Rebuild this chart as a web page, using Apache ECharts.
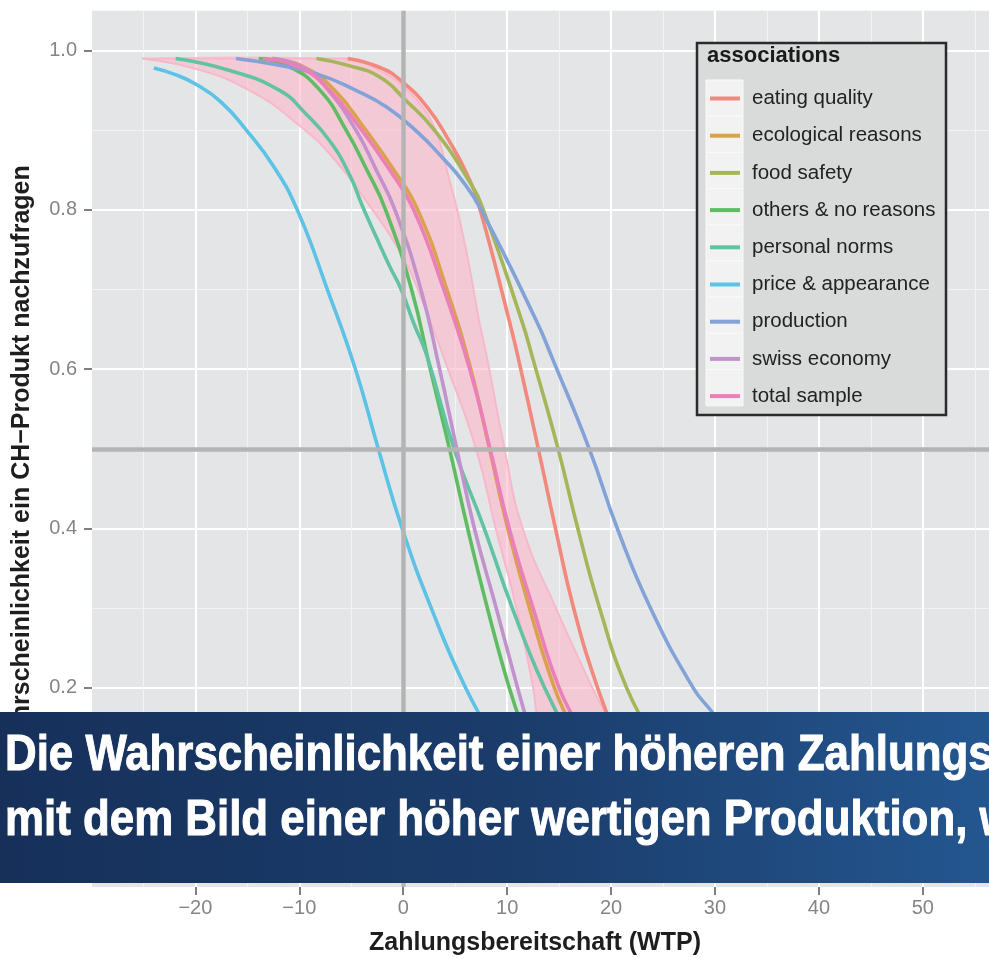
<!DOCTYPE html>
<html>
<head>
<meta charset="utf-8">
<title>Zahlungsbereitschaft nach Assoziationen</title>
<script src="https://cdn.jsdelivr.net/npm/echarts@6/dist/echarts.min.js"></script>
<style>
  html, body { margin: 0; padding: 0; background: #ffffff; overflow: hidden; }
  #main { width: 1060px; height: 959px; }
</style>
</head>
<body>
<div id="main"></div>
<script>
// Probability curves per association group: [WTP, probability]
const eatingQuality = [[-5.35,0.99],[-2.3,0.979],[-0.2,0.962],[2.3,0.929],[4.4,0.887],[6.3,0.84],[7.4,0.8],[10.2,0.661],[11.1,0.612],[13.0,0.5],[14.65,0.4],[16.4,0.3],[18.7,0.2],[20.5,0.14]];
const ecologicalReasons = [[-12.6,0.99],[-9.5,0.979],[-6.6,0.95],[-3.6,0.9],[-0.9,0.85],[1.4,0.8],[4.2,0.7],[6.5,0.6],[8.3,0.5],[10.06,0.4],[12.15,0.3],[14.55,0.2],[16.3,0.15]];
const foodSafety = [[-8.35,0.99],[-5.5,0.982],[-2.3,0.967],[0.28,0.937],[3.0,0.9],[6.3,0.837],[7.7,0.8],[11.4,0.661],[12.5,0.612],[14.9,0.5],[16.8,0.4],[18.9,0.3],[21.5,0.2],[24.0,0.14]];
const othersNoReasons = [[-13.9,0.99],[-11.0,0.98],[-8.0,0.95],[-5.5,0.9],[-3.5,0.85],[-1.7,0.8],[0.8,0.7],[2.6,0.6],[4.45,0.5],[6.2,0.4],[8.1,0.3],[10.2,0.2],[11.5,0.15]];
const personalNorms = [[-21.9,0.99],[-16.7,0.975],[-11.9,0.95],[-9.4,0.921],[-7.1,0.887],[-5.2,0.845],[-3.9,0.804],[-2.6,0.766],[-1.3,0.729],[-0.2,0.7],[1.0,0.658],[2.3,0.616],[4.9,0.5],[7.8,0.4],[10.5,0.3],[13.6,0.2],[16.0,0.14]];
const priceAppearance = [[-24.0,0.978],[-22.0,0.97],[-20.0,0.958],[-17.5,0.935],[-15.1,0.9],[-12.5,0.855],[-10.2,0.8],[-7.3,0.7],[-4.6,0.6],[-2.4,0.5],[-0.1,0.4],[2.7,0.3],[6.0,0.2],[9.0,0.13]];
const production = [[-16.1,0.99],[-12.6,0.983],[-8.4,0.971],[-4.55,0.95],[-1.6,0.929],[1.5,0.896],[3.8,0.865],[5.6,0.838],[7.5,0.8],[12.8,0.661],[14.4,0.612],[17.9,0.5],[20.6,0.4],[23.8,0.3],[27.9,0.2],[29.7,0.17],[32.0,0.13]];
const swissEconomy = [[-12.6,0.99],[-9.5,0.978],[-7.2,0.95],[-4.55,0.9],[-2.6,0.85],[-0.8,0.8],[1.7,0.7],[3.5,0.6],[5.15,0.5],[6.85,0.4],[8.95,0.3],[11.0,0.2],[12.1,0.15]];
const totalSample = [[-13.5,0.99],[-10.0,0.979],[-7.1,0.95],[-4.0,0.9],[-1.3,0.85],[1.0,0.8],[3.9,0.7],[6.4,0.6],[8.36,0.5],[10.2,0.4],[12.5,0.3],[15.0,0.2],[17.0,0.15]];

// Confidence band of the total sample
const totalUpper = [[-25.1,0.99],[-5.4,0.99],[-2.3,0.975],[0.0,0.955],[1.5,0.935],[2.7,0.912],[3.5,0.885],[4.3,0.845],[5.2,0.8],[6.2,0.74],[7.3,0.661],[8.1,0.612],[9.75,0.5],[11.5,0.4],[14.7,0.3],[18.2,0.2],[19.4,0.17],[21.0,0.13]];
const totalLower = [[-25.1,0.99],[-20.0,0.977],[-14.8,0.95],[-10.0,0.906],[-6.8,0.866],[-3.5,0.81],[0.0,0.74],[2.0,0.68],[3.97,0.612],[7.0,0.5],[8.9,0.4],[10.9,0.3],[12.5,0.2],[12.8,0.17],[13.5,0.12]];

const groupNames = ['eating quality','ecological reasons','food safety','others & no reasons','personal norms','price & appearance','production','swiss economy','total sample'];
const groupData = [eatingQuality, ecologicalReasons, foodSafety, othersNoReasons, personalNorms, priceAppearance, production, swissEconomy, totalSample];
const groupColors = ['#F3887D','#D9A34E','#A5B65A','#60BC63','#62C3A3','#5CC2E6','#82A2D8','#C292CC','#EB7FB8'];

// Axis ticks and reference lines
const xTicks = [-20,-10,0,10,20,30,40,50,60];
const xMinorTicks = [-25,-15,-5,5,15,25,35,45,55];
const yTicks = [0,0.2,0.4,0.6,0.8,1.0];
const yMinorTicks = [0.1,0.3,0.5,0.7,0.9];
const refX = 0;
const refY = 0.5;

const xTitle = 'Zahlungsbereitschaft (WTP)';
const yTitle = 'Wahrscheinlichkeit ein CH\u2212Produkt nachzufragen';
const legendTitle = 'associations';
const bannerLines = ['Die Wahrscheinlichkeit einer h\u00f6heren Zahlungsbereitschaft', 'mit dem Bild einer h\u00f6her wertigen Produktion, w'];

const FONT = '"Liberation Sans", Arial, Helvetica, sans-serif';
const chart = echarts.init(document.getElementById('main'), null, { renderer: 'canvas' });

const lineSeries = groupNames.map((name, i) => ({
  name: name,
  type: 'line',
  data: groupData[i],
  color: groupColors[i],
  showSymbol: false,
  symbol: 'none',
  smooth: 0.5,
  lineStyle: { width: 3.6, color: groupColors[i] },
  emphasis: { disabled: true },
  z: 3
}));

const bandSeries = {
  type: 'custom',
  name: 'band',
  data: [0],
  silent: true,
  z: 2,
  renderItem: function (params, api) {
    const pts = [];
    totalUpper.forEach(p => pts.push(api.coord(p)));
    for (let i = totalLower.length - 1; i > 0; i--) pts.push(api.coord(totalLower[i]));
    return {
      type: 'polygon',
      shape: { points: pts, smooth: 0.3 },
      style: { fill: 'rgba(255,182,203,0.6)', stroke: null }
    };
  }
};

const boundSeries = [totalUpper, totalLower].map(d => ({
  type: 'line',
  data: d,
  symbol: 'none',
  smooth: 0.5,
  silent: true,
  lineStyle: { width: 2, color: '#F7B8C9' },
  z: 2
}));

const refSeries = {
  type: 'line',
  name: 'ref',
  data: [],
  symbol: 'none',
  silent: true,
  z: 5,
  markLine: {
    symbol: 'none',
    silent: true,
    animation: false,
    label: { show: false },
    lineStyle: { color: '#B4B4B4', width: 4.5, type: 'solid' },
    emphasis: { disabled: true },
    data: [{ xAxis: refX }, { yAxis: refY }]
  }
};

const legendTop = 43, legendLeft = 697, rowH = 36.2, keyTop = 80;
const keyCells = groupNames.map((n, i) => ({
  type: 'rect',
  z: 51,
  shape: { x: 706, y: keyTop + i * rowH, width: 37, height: rowH },
  style: { fill: '#F2F2F2', stroke: '#FAFAFA', lineWidth: 1 }
}));

const minus = v => (v < 0 ? '\u2212' + Math.abs(v) : String(v));

chart.setOption({
  animation: false,
  backgroundColor: '#ffffff',
  textStyle: { fontFamily: FONT },
  grid: { left: 92, top: 10.7, width: 954.5, height: 876.3, show: true, backgroundColor: '#E4E5E7', borderWidth: 0, containLabel: false },
  xAxis: [
    {
      type: 'value', min: -29.95, max: 61.9,
      axisLine: { show: false, onZero: false },
      axisTick: { show: true, length: 8, customValues: xTicks, lineStyle: { color: '#808080', width: 2 } },
      axisLabel: { customValues: xTicks, formatter: minus, color: '#858585', fontSize: 20, margin: 11, fontFamily: FONT },
      splitLine: { show: true, lineStyle: { color: '#FFFFFF', width: 2.2 } }
    },
    {
      type: 'value', min: -29.95, max: 61.9, position: 'bottom',
      axisLine: { show: false, onZero: false },
      axisTick: { show: false, customValues: xMinorTicks },
      axisLabel: { show: false, customValues: xMinorTicks },
      splitLine: { show: true, lineStyle: { color: '#F3F3F4', width: 1.2 } }
    }
  ],
  yAxis: [
    {
      type: 'value', min: -0.05, max: 1.05,
      axisLine: { show: false, onZero: false },
      axisTick: { show: true, length: 8, customValues: yTicks, lineStyle: { color: '#808080', width: 2 } },
      axisLabel: { customValues: yTicks, formatter: v => v.toFixed(1), color: '#858585', fontSize: 20, margin: 15, fontFamily: FONT },
      splitLine: { show: true, lineStyle: { color: '#FFFFFF', width: 2.2 } }
    },
    {
      type: 'value', min: -0.05, max: 1.05, position: 'left',
      axisLine: { show: false, onZero: false },
      axisTick: { show: false, customValues: yMinorTicks },
      axisLabel: { show: false, customValues: yMinorTicks },
      splitLine: { show: true, lineStyle: { color: '#F3F3F4', width: 1.2 } }
    }
  ],
  legend: {
    data: groupNames,
    orient: 'vertical',
    left: 710,
    top: 88,
    padding: 0,
    itemWidth: 30,
    itemHeight: 4,
    itemGap: rowH - 20,
    icon: 'rect',
    selectedMode: false,
    z: 60,
    textStyle: { fontSize: 20.5, color: '#222222', lineHeight: 20, padding: [0, 0, 0, 7], fontFamily: FONT }
  },
  series: [bandSeries].concat(boundSeries, lineSeries, [refSeries]),
  graphic: [
    {
      type: 'rect', z: 50,
      shape: { x: legendLeft, y: legendTop, width: 249, height: 372 },
      style: { fill: '#D9DADA', stroke: '#2B2B2B', lineWidth: 2.5 }
    }
  ].concat(keyCells, [
    {
      type: 'text', z: 52, left: 707, top: 45,
      style: { text: legendTitle, font: 'bold 22px ' + FONT, fill: '#1A1A1A' }
    },
    {
      type: 'text', z: 10, x: 535, y: 943,
      style: { text: xTitle, font: 'bold 25px ' + FONT, fill: '#1E1E1E', align: 'center', verticalAlign: 'middle' }
    },
    {
      type: 'text', z: 10, x: 22, y: 461, rotation: Math.PI / 2,
      style: { text: yTitle, font: 'bold 25px ' + FONT, fill: '#1E1E1E', align: 'center', verticalAlign: 'middle' }
    },
    {
      type: 'rect', z: 100,
      shape: { x: 0, y: 712, width: 1060, height: 171 },
      style: {
        fill: new echarts.graphic.LinearGradient(0, 0, 1, 0, [
          { offset: 0, color: '#16305A' },
          { offset: 0.5, color: '#1B3D6C' },
          { offset: 1, color: '#255A95' }
        ])
      }
    },
    {
      type: 'text', z: 101, x: 5, y: 756, scaleX: 0.877, scaleY: 1,
      style: { text: bannerLines[0], font: 'bold 50px ' + FONT, fill: '#FFFFFF', stroke: '#FFFFFF', lineWidth: 1, align: 'left', verticalAlign: 'middle' }
    },
    {
      type: 'text', z: 101, x: 5, y: 821, scaleX: 0.877, scaleY: 1,
      style: { text: bannerLines[1], font: 'bold 50px ' + FONT, fill: '#FFFFFF', stroke: '#FFFFFF', lineWidth: 1, align: 'left', verticalAlign: 'middle' }
    }
  ])
});
</script>
</body>
</html>
